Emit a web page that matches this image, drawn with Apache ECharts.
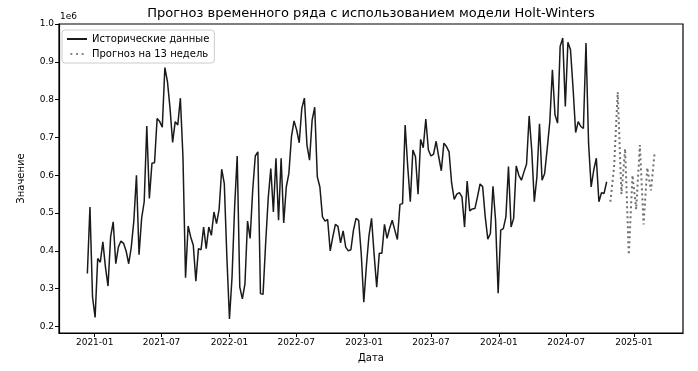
<!DOCTYPE html>
<html>
<head>
<meta charset="utf-8">
<script src="https://cdn.jsdelivr.net/npm/echarts@6/dist/echarts.min.js"></script>
<style>
html,body{margin:0;padding:0;background:#fff;}
#chart{width:698px;height:371px;}
</style>
</head>
<body>
<div id="chart"></div>
<script>
// ---- data ----
const titleText = 'Прогноз временного ряда с использованием модели Holt-Winters';
const xAxisName = 'Дата';
const yAxisName = 'Значение';
const seriesNames = ['Исторические данные', 'Прогноз на 13 недель'];

const histStart = '2020-12-12';
const histStepDays = 7;
const histValues = [
  340000, 516000, 278000, 224000, 380000, 370000, 424000, 357000, 307000, 437000,
  477000, 366000, 410000, 426000, 420000, 400000, 366000, 410000, 480000, 600000,
  390000, 486000, 530000, 730000, 539000, 632000, 633000, 750000, 742000, 727000,
  885000, 848000, 777000, 687000, 742000, 733000, 804000, 649000, 329000, 466000,
  437000, 415000, 320000, 406000, 403000, 463000, 406000, 463000, 441000, 503000,
  472000, 510000, 616000, 578000, 384000, 220000, 331000, 516000, 651000, 304000,
  273000, 313000, 479000, 433000, 561000, 651000, 662000, 287000, 285000, 419000,
  539000, 618000, 503000, 645000, 481000, 645000, 474000, 569000, 605000, 702000,
  744000, 720000, 686000, 777000, 804000, 680000, 640000, 746000, 780000, 596000,
  569000, 490000, 479000, 483000, 400000, 437000, 470000, 465000, 421000, 453000,
  410000, 400000, 403000, 455000, 486000, 481000, 393000, 264000, 360000, 440000,
  486000, 390000, 304000, 394000, 394000, 470000, 433000, 460000, 481000, 455000,
  430000, 523000, 525000, 733000, 623000, 530000, 667000, 649000, 550000, 695000,
  673000, 749000, 667000, 651000, 656000, 690000, 649000, 612000, 685000, 676000,
  662000, 579000, 536000, 550000, 554000, 543000, 463000, 585000, 506000, 511000,
  512000, 543000, 577000, 570000, 490000, 431000, 446000, 571000, 481000, 288000,
  455000, 459000, 490000, 623000, 463000, 486000, 625000, 600000, 587000, 609000,
  630000, 757000, 667000, 530000, 596000, 736000, 587000, 605000, 671000, 742000,
  879000, 760000, 738000, 941000, 963000, 782000, 952000, 932000, 830000, 713000,
  742000, 729000, 724000, 950000, 685000, 569000, 614000, 645000, 530000, 554000,
  552000, 583000
];
const forecastStepDays = 10;
const forecastValues = [530000, 620000, 820000, 550000, 670000, 390000, 600000, 510000, 680000, 470000, 620000, 560000, 660000];

// ---- build ----
const DAY = 86400000;
const t0 = new Date(histStart + 'T00:00:00Z').getTime();
const histData = histValues.map((v, i) => [t0 + i * histStepDays * DAY, v]);
const lastT = histData[histData.length - 1][0];
const fcData = forecastValues.map((v, i) => [lastT + (i + 1) * forecastStepDays * DAY, v]);

const allT = histData.concat(fcData).map(d => d[0]);
const allV = histData.concat(fcData).map(d => d[1]);
const tMin = Math.min(...allT), tMax = Math.max(...allT);
const vMin = Math.min(...allV), vMax = Math.max(...allV);
const xPad = (tMax - tMin) * 0.05, yPad = (vMax - vMin) * 0.05;

const FONT = 'DejaVu Sans';
const chart = echarts.init(document.getElementById('chart'), null, {renderer: 'canvas'});
chart.setOption({
  animation: false,
  backgroundColor: '#fff',
  textStyle: {fontFamily: FONT},
  grid: {left: 59, right: 15, top: 24, bottom: 38, show: true, borderColor: '#000', borderWidth: 1.2, containLabel: false},
  legend: {
    orient: 'vertical', left: 62, top: 30,
    itemWidth: 20, itemHeight: 2, itemGap: 5,
    padding: [4, 5, 4, 5],
    borderColor: '#cccccc', borderWidth: 1, borderRadius: 3,
    backgroundColor: 'rgba(255,255,255,0.8)',
    textStyle: {fontFamily: FONT, fontSize: 10, color: '#000'},
    data: [
      {name: seriesNames[0], icon: 'rect'},
      {name: seriesNames[1], icon: 'path://M0,0h3v3h-3z M8.5,0h3v3h-3z M17,0h3v3h-3z'}
    ]
  },
  xAxis: {
    type: 'time', min: tMin - xPad, max: tMax + xPad,
    minInterval: 180 * DAY, maxInterval: 185 * DAY,
    name: xAxisName, nameLocation: 'middle', nameGap: 20,
    nameTextStyle: {fontFamily: FONT, fontSize: 10, color: '#000'},
    axisLine: {lineStyle: {color: '#000', width: 1.2}},
    axisTick: {show: true, length: 4, lineStyle: {color: '#000'}},
    splitLine: {show: false},
    axisLabel: {formatter: '{yyyy}-{MM}', fontFamily: FONT, fontSize: 9, color: '#000', margin: 5, showMinLabel: false, showMaxLabel: false, hideOverlap: false}
  },
  yAxis: {
    type: 'value', min: vMin - yPad, max: vMax + yPad, splitNumber: 8,
    name: yAxisName, nameLocation: 'middle', nameGap: 33,
    nameTextStyle: {fontFamily: FONT, fontSize: 10, color: '#000'},
    axisLine: {show: true, lineStyle: {color: '#000', width: 1.2}},
    axisTick: {show: true, length: 4, lineStyle: {color: '#000'}},
    splitLine: {show: false},
    axisLabel: {formatter: v => (v / 1e6).toFixed(1), fontFamily: FONT, fontSize: 9, color: '#000', margin: 5, showMinLabel: false}
  },
  graphic: [
    {
      type: 'text', x: 371, y: 14,
      style: {text: titleText, font: '13px "DejaVu Sans"', fill: '#000', align: 'center', verticalAlign: 'middle'}
    },
    {
      type: 'text', left: 60, top: 12,
      style: {text: '1e6', font: '9px "DejaVu Sans"', fill: '#000'}
    }
  ],
  series: [
    {
      name: seriesNames[0], type: 'line', data: histData, showSymbol: false, symbol: 'none',
      lineStyle: {color: '#1a1a1a', width: 1.5}, itemStyle: {color: '#1a1a1a'}
    },
    {
      name: seriesNames[1], type: 'line', data: fcData, showSymbol: false, symbol: 'none',
      lineStyle: {color: '#707070', width: 2, type: [2, 3]}, itemStyle: {color: '#8a8a8a'}
    }
  ]
});
</script>
</body>
</html>
